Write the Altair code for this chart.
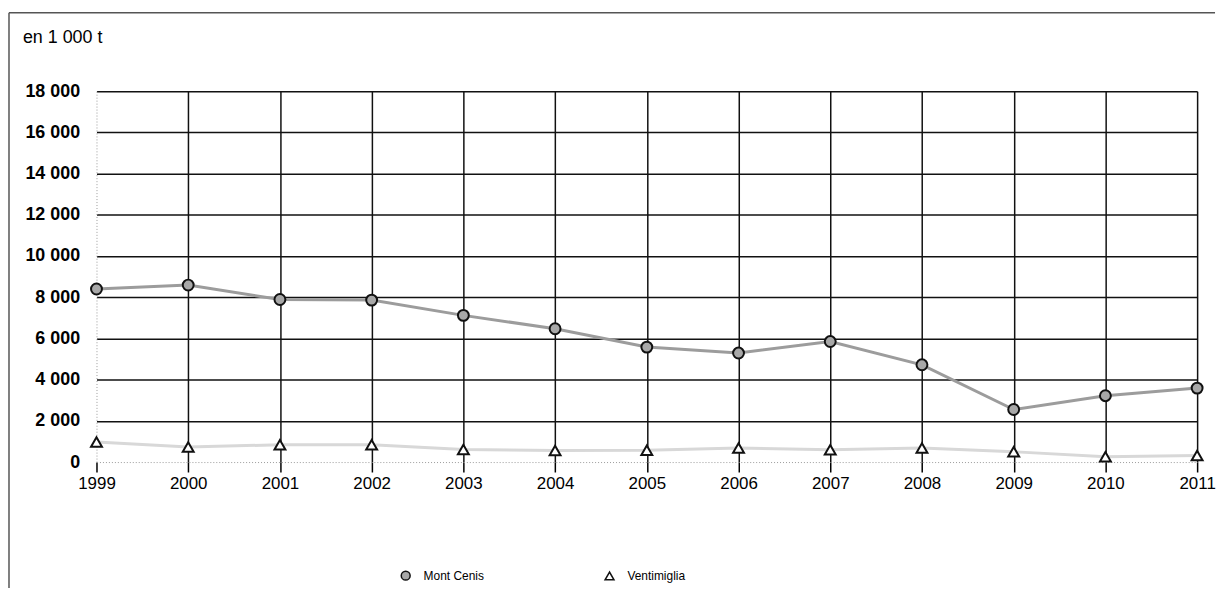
import altair as alt
import pandas as pd

years = [1999, 2000, 2001, 2002, 2003, 2004, 2005, 2006, 2007, 2008, 2009, 2010, 2011]
mont_cenis = [8400, 8590, 7890, 7860, 7120, 6470, 5580, 5290, 5850, 4720, 2550, 3220, 3590]
ventimiglia = [970, 730, 840, 840, 610, 560, 570, 680, 600, 680, 500, 260, 320]
series_names = ["Mont Cenis", "Ventimiglia"]
line_colors = ["#9c9c9c", "#d8d8d8"]
y_ticks = [0, 2000, 4000, 6000, 8000, 10000, 12000, 14000, 16000, 18000]
unit_label = "en 1 000 t"

rows = []
for name, vals in zip(series_names, [mont_cenis, ventimiglia]):
    for yr, v in zip(years, vals):
        rows.append({"year": yr, "value": v, "series": name})
df = pd.DataFrame(rows)

FONT = "Liberation Sans"

x_enc = alt.X(
    "year:O",
    scale=alt.Scale(type="point", padding=0),
    axis=alt.Axis(
        title=None,
        labelAngle=0,
        labelFontSize=17,
        labelColor="black",
        labelPadding=4,
        tickSize=10,
        tickColor="black",
        tickWidth=1.5,
        grid=True,
        gridColor=alt.condition("datum.value == 1999", alt.value("transparent"), alt.value("#111111")),
        gridWidth=1.5,
        domainColor="#9a9a9a",
        domainDash=[1, 2],
        domainWidth=1,
    ),
)
y_enc = alt.Y(
    "value:Q",
    scale=alt.Scale(domain=[0, 18000], nice=False),
    axis=alt.Axis(
        title=None,
        values=y_ticks,
        labelExpr="replace(format(datum.value, ',d'), ',', ' ')",
        labelFontSize=18,
        labelFontWeight="bold",
        labelColor="black",
        labelPadding=17,
        ticks=False,
        grid=True,
        gridColor=alt.condition("datum.value == 0", alt.value("transparent"), alt.value("#111111")),
        gridWidth=1.5,
        domainColor="#9a9a9a",
        domainDash=[1, 2],
        domainWidth=1,
    ),
)

base = alt.Chart(df)

line_layers = [
    base.transform_filter(alt.datum.series == name)
    .mark_line(strokeWidth=3, color=col)
    .encode(x=x_enc, y=y_enc)
    for name, col in zip(series_names, line_colors)
]

legend_cfg = dict(
    title=None,
    orient="none",
    legendX=305,
    legendY=481,
    direction="horizontal",
    columnPadding=118,
    labelFontSize=12,
    labelColor="black",
    labelOffset=12,
    symbolSize=80,
    symbolStrokeColor="#111111",
    symbolStrokeWidth=1.5,
)

points = base.mark_point(filled=True, size=120, strokeWidth=2, stroke="#111111", opacity=1).encode(
    x=x_enc,
    y=y_enc,
    shape=alt.Shape(
        "series:N",
        scale=alt.Scale(domain=series_names, range=["circle", "triangle-up"]),
        legend=alt.Legend(**legend_cfg),
    ),
    color=alt.Color(
        "series:N",
        scale=alt.Scale(domain=series_names, range=["#a8a8a8", "#ffffff"]),
        legend=alt.Legend(**legend_cfg),
    ),
)

frame_df = pd.DataFrame({"a": [0]})
frame_top = alt.Chart(frame_df).mark_rule(color="#555555", strokeWidth=1.5).encode(
    x=alt.value(-88), x2=alt.value(1125), y=alt.value(-79)
)
frame_left = alt.Chart(frame_df).mark_rule(color="#555555", strokeWidth=1.5).encode(
    x=alt.value(-88), y=alt.value(-79), y2=alt.value(520)
)
title_df = pd.DataFrame({"label": [unit_label]})
title_text = alt.Chart(title_df).mark_text(
    align="left", baseline="alphabetic", fontSize=18, color="black", font=FONT
).encode(x=alt.value(-74), y=alt.value(-48), text="label:N")

chart = (
    alt.layer(frame_top, frame_left, title_text, *line_layers, points)
    .properties(
        width=1107,
        height=373,
        padding={"left": 89, "top": 82, "right": 22, "bottom": 125},
        autosize=alt.AutoSizeParams(type="none"),
    )
    .configure(font=FONT, background="white")
    .configure_view(stroke=None)
)

chart.save("out.html", embed_options={"renderer": "svg", "actions": False})
